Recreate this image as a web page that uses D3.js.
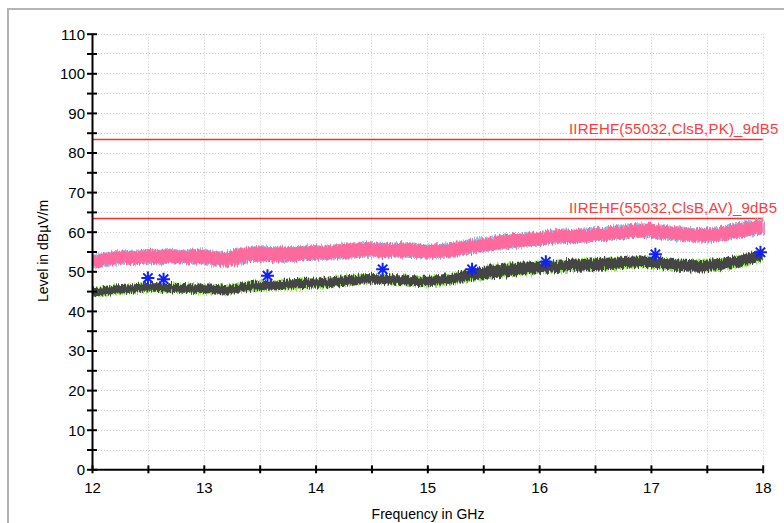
<!DOCTYPE html>
<html>
<head>
<meta charset="utf-8">
<script src="https://cdn.jsdelivr.net/npm/d3@7"></script>
<style>
  html, body { margin: 0; padding: 0; background: #ffffff; overflow: hidden; }
  svg { display: block; }
  text { font-family: "Liberation Sans", Arial, sans-serif; }
</style>
</head>
<body>
<svg id="chart" width="784" height="523"></svg>
<script>
// Frequency grid of the sweep envelopes (GHz)
const freqs = d3.range(61).map(i => +(12 + i * 0.1).toFixed(1));

// Peak detector trace: upper / lower envelope (dBµV/m)
const peakHigh = [54.0,54.5,55.0,55.2,55.0,55.5,55.3,55.6,55.2,55.5,
                  55.4,55.0,54.8,55.6,56.0,56.3,56.0,56.2,56.0,56.4,
                  56.5,56.3,56.8,57.0,57.1,57.3,57.0,56.9,57.2,56.8,
                  56.6,56.8,57.0,57.5,58.0,58.3,58.8,59.2,59.4,59.6,
                  59.8,60.2,60.5,60.4,60.6,60.8,61.0,61.3,61.7,62.0,
                  62.0,61.6,61.2,60.9,60.7,60.8,61.0,61.6,62.2,62.6,63.0];
const peakLow  = [50.8,51.3,51.7,52.0,51.8,52.0,51.8,52.0,52.1,52.0,
                  51.8,51.5,51.2,51.8,52.3,52.5,52.6,52.4,52.6,52.8,
                  53.0,52.9,53.2,53.3,53.6,53.8,53.6,53.7,53.5,53.4,
                  53.3,53.4,53.6,54.1,54.6,55.0,55.4,55.8,56.0,56.3,
                  56.5,56.9,57.2,57.1,57.3,57.6,57.8,58.0,58.5,58.7,
                  58.6,58.2,57.9,57.6,57.5,57.4,57.6,58.0,58.5,59.0,59.6];

// Average detector trace: upper / lower envelope (dBµV/m)
const avgHigh  = [45.7,46.0,46.4,46.6,46.8,47.0,47.0,46.8,46.8,46.7,
                  46.7,46.6,46.2,46.8,47.2,47.5,47.6,47.8,48.0,48.1,
                  48.2,48.4,48.6,48.8,49.2,49.3,49.2,49.0,48.9,48.7,
                  48.6,48.8,49.3,49.9,50.5,51.0,51.6,51.9,52.1,52.3,
                  52.4,52.5,52.7,52.9,53.1,53.3,53.4,53.5,53.7,53.8,
                  53.6,53.4,53.1,52.9,52.8,52.9,53.1,53.5,54.0,54.8,55.3];
const avgLow   = [43.6,43.9,44.3,44.5,44.7,44.9,44.8,44.7,44.6,44.6,
                  44.5,44.4,44.0,44.6,45.0,45.2,45.4,45.5,45.6,45.8,
                  45.9,46.0,46.2,46.4,46.9,47.0,46.8,46.6,46.5,46.3,
                  46.3,46.5,46.9,47.2,47.7,48.0,48.3,48.7,49.0,49.3,
                  49.5,49.7,49.9,50.1,50.2,50.3,50.5,50.7,50.9,51.1,
                  51.0,50.6,50.3,50.0,49.9,50.0,50.3,50.7,51.2,52.0,52.8];

// Final measurement points (GHz, dBµV/m)
const markerFreqs  = [12.50, 12.64, 13.57, 14.60, 15.40, 16.06, 17.04, 17.98];
const markerLevels = [48.3, 48.0, 48.9, 50.5, 50.5, 52.4, 54.3, 54.8];

// Limit lines
const limitNames  = ["IIREHF(55032,ClsB,PK)_9dB5", "IIREHF(55032,ClsB,AV)_9dB5"];
const limitLevels = [83.5, 63.5];

// Axis ticks
const yTicks = d3.range(0, 111, 5);
const yTickLabels = ["0","10","20","30","40","50","60","70","80","90","100","110"];
const xTicks = d3.range(12, 18.01, 0.5);
const xTickLabels = ["12","13","14","15","16","17","18"];

const svg = d3.select("#chart");
const x = d3.scaleLinear().domain([12, 18]).range([92, 762.7]);
const y = d3.scaleLinear().domain([0, 110]).range([469.3, 33.7]);

// outer frame
svg.append("rect").attr("x", 8).attr("y", 9).attr("width", 820).attr("height", 560)
  .attr("fill", "#ffffff").attr("stroke", "#b4b4b4").attr("stroke-width", 2);

// jagged trace texture
const defs = svg.append("defs");
function jitter(id, seed, scale) {
  const f = defs.append("filter").attr("id", id)
    .attr("x", "-2%").attr("y", "-40%").attr("width", "104%").attr("height", "180%");
  f.append("feTurbulence").attr("type", "fractalNoise").attr("baseFrequency", "0.8 0.02")
    .attr("numOctaves", 2).attr("seed", seed).attr("result", "n");
  f.append("feDisplacementMap").attr("in", "SourceGraphic").attr("in2", "n")
    .attr("scale", scale).attr("xChannelSelector", "R").attr("yChannelSelector", "G");
}
jitter("jA", 3, 9);
jitter("jB", 11, 8);

// grid
const grid = svg.append("g").attr("stroke", "#c8c8c8").attr("stroke-width", 1)
  .attr("stroke-dasharray", "1,2");
grid.selectAll("line.h").data(yTicks.filter(v => v > 0)).join("line")
  .attr("x1", x(12)).attr("x2", x(18))
  .attr("y1", d => Math.round(y(d)) + 0.5).attr("y2", d => Math.round(y(d)) + 0.5);
grid.selectAll("line.v").data(xTicks.filter(v => v > 12)).join("line")
  .attr("y1", y(110)).attr("y2", y(0))
  .attr("x1", d => Math.round(x(d)) + 0.5).attr("x2", d => Math.round(x(d)) + 0.5);

// limit lines and labels
limitLevels.forEach((lv, i) => {
  svg.append("line").attr("x1", x(12)).attr("x2", x(18))
    .attr("y1", Math.round(y(lv)) + 0.5).attr("y2", Math.round(y(lv)) + 0.5)
    .attr("stroke", "#ff2a2a").attr("stroke-width", 1.6);
  svg.append("text").attr("x", 569).attr("y", y(lv) - 5)
    .attr("fill", "#ff3b3b").attr("font-size", 15).attr("letter-spacing", 0.2)
    .text(limitNames[i]);
});

// traces as envelope bands
const rows = freqs.map((f, i) => ({ f, ph: peakHigh[i], pl: peakLow[i], ah: avgHigh[i], al: avgLow[i] }));
function band(hi, lo, dHi, dLo) {
  return d3.area().x(d => x(d.f)).y0(d => y(d[lo] - dLo)).y1(d => y(d[hi] + dHi));
}
svg.append("path").attr("d", band("ph", "pl", 0.15, 0.1)(rows))
  .attr("fill", "#92c4f2").attr("filter", "url(#jB)");
svg.append("path").attr("d", band("ph", "pl", 0, 0)(rows))
  .attr("fill", "#ff6b9e").attr("filter", "url(#jA)");
svg.append("path").attr("d", band("ah", "al", 0.1, 0.15)(rows))
  .attr("fill", "#8fea4e").attr("filter", "url(#jB)");
svg.append("path").attr("d", band("ah", "al", 0, 0)(rows))
  .attr("fill", "#444444").attr("filter", "url(#jA)");

// measurement markers (eight-arm stars)
const r = 6.5, rd = r * 0.72;
const star = `M${-r},0L${r},0M0,${-r}L0,${r}M${-rd},${-rd}L${rd},${rd}M${-rd},${rd}L${rd},${-rd}`;
svg.selectAll("path.mk").data(markerFreqs).join("path")
  .attr("transform", (d, i) => `translate(${x(d)},${y(markerLevels[i])})`)
  .attr("d", star).attr("stroke", "#1020ff").attr("stroke-width", 2).attr("fill", "none");

// y axis
const yAxis = svg.append("g").attr("transform", `translate(${x(12)},0)`)
  .call(d3.axisLeft(y).tickValues(yTicks).tickSize(0)
    .tickFormat(d => d % 10 === 0 ? yTickLabels[d / 10] : ""));
yAxis.select(".domain").attr("stroke", "#000").attr("stroke-width", 2);
yAxis.selectAll(".tick line").attr("x1", -5).attr("x2", 5).attr("stroke", "#000").attr("stroke-width", 2);
yAxis.selectAll(".tick text").attr("x", -7).attr("dy", "0.36em")
  .attr("font-size", 15).attr("fill", "#000").attr("font-family", "Liberation Sans, Arial, sans-serif");

// x axis
const xAxis = svg.append("g").attr("transform", `translate(0,${y(0)})`)
  .call(d3.axisBottom(x).tickValues(xTicks).tickSize(0)
    .tickFormat(d => Number.isInteger(d) ? xTickLabels[d - 12] : ""));
xAxis.select(".domain").attr("stroke", "#000").attr("stroke-width", 2);
xAxis.selectAll(".tick line").attr("y1", -4).attr("y2", 4).attr("stroke", "#000").attr("stroke-width", 2);
xAxis.selectAll(".tick text").attr("y", 13).attr("dy", "0.71em")
  .attr("font-size", 15).attr("fill", "#000").attr("font-family", "Liberation Sans, Arial, sans-serif");

// axis titles
svg.append("text").attr("x", 428).attr("y", 519).attr("text-anchor", "middle")
  .attr("font-size", 14).attr("fill", "#000").text("Frequency in GHz");
svg.append("text").attr("transform", "translate(48,251) rotate(-90)").attr("text-anchor", "middle")
  .attr("font-size", 14).attr("fill", "#000").text("Level in dBµV/m");
</script>
</body>
</html>
